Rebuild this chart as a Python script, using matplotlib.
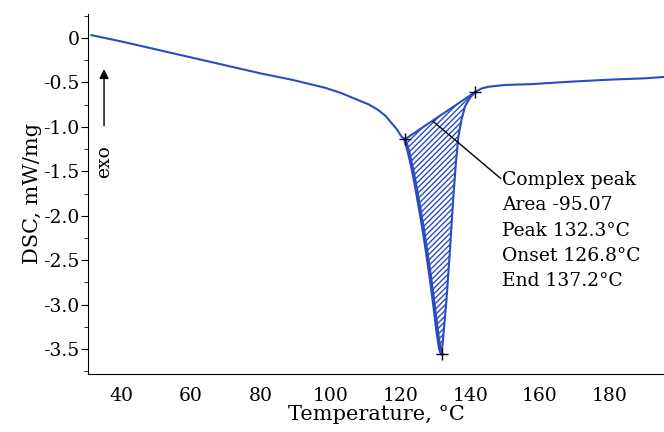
import numpy as np
import matplotlib.pyplot as plt
from matplotlib.ticker import MultipleLocator

plt.rcParams['font.family'] = ['DejaVu Serif']
plt.rcParams['hatch.linewidth'] = 1.0

# DSC curve (temperature in C, DSC in mW/mg)
temp = [31.5, 40, 50, 60, 70, 80, 88.8, 98.3, 103, 107.9, 111, 113.6, 115.8,
        117.5, 119.0, 120.3, 121.3,
        122.3, 123.3, 124.3, 125.3, 126.4, 127.5, 128.6, 129.6, 130.6, 131.3, 131.8,
        132.2, 133.2, 134.2, 135.1, 135.9, 136.6, 137.5, 138.5, 140.0, 141.4,
        143.2, 145.2, 149.9, 157.6, 170, 180, 190, 195.5]
dsc = [0.03, -0.04, -0.13, -0.22, -0.31, -0.40, -0.47, -0.56, -0.62, -0.70,
       -0.75, -0.81, -0.88, -0.96, -1.03, -1.11, -1.14,
       -1.28, -1.45, -1.65, -1.87, -2.12, -2.40, -2.70, -3.00, -3.32, -3.50, -3.55,
       -3.39, -2.94, -2.38, -1.82, -1.40, -1.11, -0.92, -0.77, -0.67, -0.61,
       -0.57, -0.55, -0.53, -0.52, -0.49, -0.47, -0.455, -0.44]

# integration limits and peak
onset_pt = (121.3, -1.14)
end_pt = (141.4, -0.61)
peak_pt = (131.8, -3.55)

peak_info = ['Complex peak', 'Area -95.07', 'Peak 132.3\u00b0C',
             'Onset 126.8\u00b0C', 'End 137.2\u00b0C']

blue = '#2a4cc0'

fig = plt.figure(figsize=(6.64, 4.32), dpi=100)
ax = fig.add_axes([0.1325, 0.134, 0.8675, 0.834])

t = np.array(temp)
d = np.array(dsc)
ax.plot(t, d, color=blue, lw=1.5)

# hatched peak area between curve and straight baseline
m = (t >= onset_pt[0]) & (t <= end_pt[0])
px = t[m]
base = onset_pt[1] + (end_pt[1] - onset_pt[1]) * (px - onset_pt[0]) / (end_pt[0] - onset_pt[0])
ax.fill_between(px, d[m], base, facecolor='none', edgecolor=blue, hatch='//////', lw=0)
ax.plot([onset_pt[0], end_pt[0]], [onset_pt[1], end_pt[1]], color=blue, lw=1.5)
# left flank is drawn heavier in the original
left = (t >= onset_pt[0]) & (t <= peak_pt[0])
ax.plot(t[left], d[left], color=blue, lw=2.6, solid_capstyle='round')

for p in (onset_pt, end_pt, peak_pt):
    ax.plot(p[0], p[1], marker='+', color='black', ms=8, mew=1.0)

# annotation leader
ax.plot([129.4, 148.7], [-0.94, -1.58], color='black', lw=1.0)
for i, s in enumerate(peak_info):
    ax.annotate(s, xy=(149.2, -1.60), xytext=(0, -18.2 * i), textcoords='offset points',
                fontsize=13.5, va='center', ha='left')

# exo arrow
ax.annotate('', xy=(35.1, -0.32), xytext=(35.1, -1.02),
            arrowprops=dict(arrowstyle='-|>', color='black', lw=1.0, mutation_scale=14))
ax.text(35.1, -1.39, 'exo', rotation=90, ha='center', va='center', fontsize=13.5)

ax.set_xlim(30.5, 195.5)
ax.set_ylim(-3.78, 0.27)
ax.set_xticks([40, 60, 80, 100, 120, 140, 160, 180])
ax.set_yticks([0, -0.5, -1.0, -1.5, -2.0, -2.5, -3.0, -3.5])
ax.set_yticklabels(['0', '-0.5', '-1.0', '-1.5', '-2.0', '-2.5', '-3.0', '-3.5'])
ax.yaxis.set_minor_locator(MultipleLocator(0.25))
ax.tick_params(axis='x', length=0, labelsize=13.5, pad=9)
ax.tick_params(axis='y', which='major', length=5, labelsize=13.5, pad=1)
ax.tick_params(axis='y', which='minor', length=3)
for s in ('top', 'right'):
    ax.spines[s].set_visible(False)

ax.set_xlabel('Temperature, \u00b0C', fontsize=15, labelpad=0)
ax.set_ylabel('DSC, mW/mg', fontsize=15, labelpad=1)

fig.savefig('out.png', dpi=100)
